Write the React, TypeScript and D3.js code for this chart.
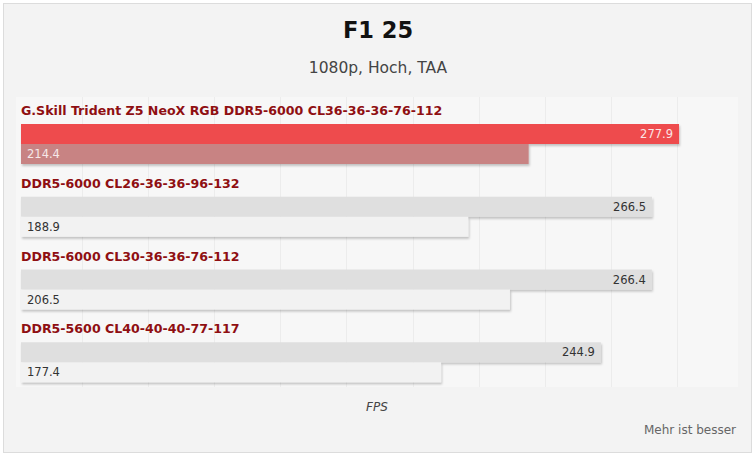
import { useEffect, useRef } from "react";
import * as d3 from "d3";

const title = "F1 25";
const subtitle = "1080p, Hoch, TAA";
const axisLabel = "FPS";
const note = "Mehr ist besser";

const kits = [
  "G.Skill Trident Z5 NeoX RGB DDR5-6000 CL36-36-36-76-112",
  "DDR5-6000 CL26-36-36-96-132",
  "DDR5-6000 CL30-36-36-76-112",
  "DDR5-5600 CL40-40-40-77-117",
];
const avgFps = [277.9, 266.5, 266.4, 244.9];
const lowFps = [214.4, 188.9, 206.5, 177.4];
const highlighted = [true, false, false, false];

const W = 756;
const H = 457;
const FONT = "'DejaVu Sans', Verdana, sans-serif";

export default function App() {
  const svgRef = useRef<SVGSVGElement | null>(null);

  useEffect(() => {
    const svgEl = svgRef.current;
    if (!svgEl) return;
    const svg = d3.select(svgEl);
    svg.selectAll("*").remove();

    const defs = svg.append("defs");
    const shadow = defs.append("filter").attr("id", "barShadow").attr("x", "-5%").attr("y", "-30%").attr("width", "110%").attr("height", "170%");
    shadow.append("feDropShadow").attr("dx", 1).attr("dy", 2).attr("stdDeviation", 1.2).attr("flood-color", "#000").attr("flood-opacity", 0.22);

    // frame
    svg.append("rect").attr("width", W).attr("height", H).attr("fill", "#fff");
    svg.append("rect").attr("x", 3.5).attr("y", 3.5).attr("width", 748).attr("height", 449).attr("fill", "#f3f3f3").attr("stroke", "#dcdcdc");
    svg.append("rect").attr("x", 16).attr("y", 97).attr("width", 722).attr("height", 290).attr("fill", "#f7f7f7");

    svg.append("text").attr("x", 378).attr("y", 38).attr("text-anchor", "middle").attr("font-family", FONT).attr("font-weight", "bold").attr("font-size", 22.5).attr("fill", "#111").text(title);
    svg.append("text").attr("x", 378).attr("y", 73).attr("text-anchor", "middle").attr("font-family", FONT).attr("font-size", 15.5).attr("fill", "#444").text(subtitle);

    // decorative grid
    const grid = d3.scaleLinear().domain([0, 11]).range([16, 743]);
    svg.append("g")
      .selectAll("line")
      .data(d3.range(1, 11))
      .join("line")
      .attr("x1", (d) => Math.round(grid(d)) + 0.5)
      .attr("x2", (d) => Math.round(grid(d)) + 0.5)
      .attr("y1", 97)
      .attr("y2", 387)
      .attr("stroke", "#ececec");

    const x = d3.scaleLinear().domain([0, 304.5]).range([21, 742]);
    const y = d3.scaleBand<string>().domain(kits).range([100, 391]);
    const barH = 20;

    const groups = svg.append("g")
      .selectAll("g")
      .data(kits.map((name, i) => ({ name, avg: avgFps[i], low: lowFps[i], hi: highlighted[i] })))
      .join("g")
      .attr("transform", (d) => `translate(0,${y(d.name)})`);

    groups.append("text")
      .attr("x", x(0))
      .attr("y", 15)
      .attr("font-family", FONT)
      .attr("font-weight", "bold")
      .attr("font-size", 12.6)
      .attr("fill", "#8f0f12")
      .text((d) => d.name);

    groups.append("rect")
      .attr("x", x(0))
      .attr("y", 24)
      .attr("width", (d) => x(d.avg) - x(0))
      .attr("height", barH)
      .attr("fill", (d) => (d.hi ? "#ee4b4d" : "#dfdfdf"))
      .attr("filter", "url(#barShadow)");

    groups.append("rect")
      .attr("x", x(0))
      .attr("y", 24 + barH)
      .attr("width", (d) => x(d.low) - x(0))
      .attr("height", barH)
      .attr("fill", (d) => (d.hi ? "#c88383" : "#f2f2f2"))
      .attr("filter", "url(#barShadow)");

    groups.append("text")
      .attr("x", (d) => x(d.avg) - 6)
      .attr("y", 24 + 14)
      .attr("text-anchor", "end")
      .attr("font-family", FONT)
      .attr("font-size", 11.5)
      .attr("fill", (d) => (d.hi ? "#fbe4e4" : "#333"))
      .text((d) => d.avg.toFixed(1));

    groups.append("text")
      .attr("x", x(0) + 6)
      .attr("y", 24 + barH + 14)
      .attr("font-family", FONT)
      .attr("font-size", 11.5)
      .attr("fill", (d) => (d.hi ? "#f6e8e8" : "#333"))
      .text((d) => d.low.toFixed(1));

    svg.append("text").attr("x", 377).attr("y", 411).attr("text-anchor", "middle").attr("font-family", FONT).attr("font-style", "italic").attr("font-size", 12).attr("fill", "#444").text(axisLabel);
    svg.append("text").attr("x", 736).attr("y", 434).attr("text-anchor", "end").attr("font-family", FONT).attr("font-size", 12).attr("fill", "#666").text(note);
  }, []);

  return (
    <div style={{ position: "absolute", left: 0, top: 0 }}>
      <svg ref={svgRef} width={W} height={H} viewBox={`0 0 ${W} ${H}`} style={{ display: "block" }} />
    </div>
  );
}
